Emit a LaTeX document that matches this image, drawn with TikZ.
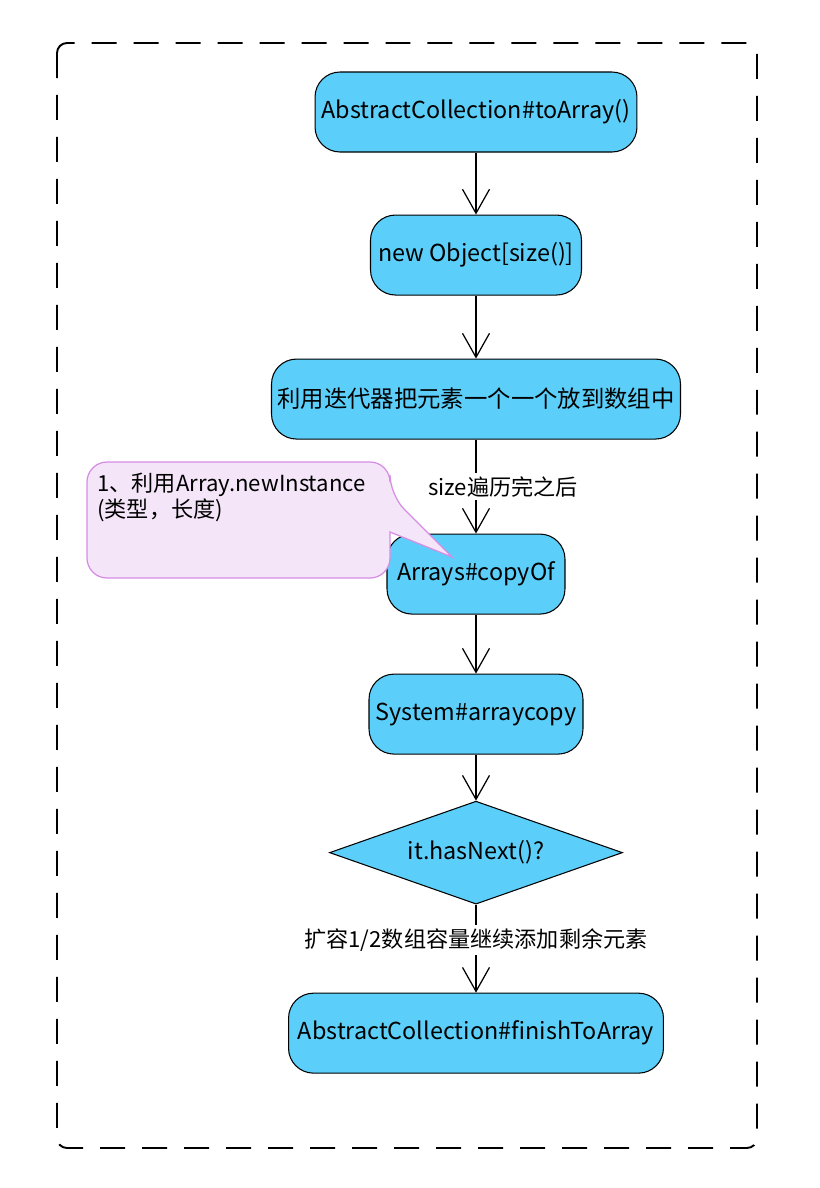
\documentclass[tikz,border=0pt]{standalone}
\usepackage{fontspec}
\setmainfont{Noto Sans CJK SC}
\usetikzlibrary{shapes.geometric, arrows.meta, positioning}
\definecolor{actblue}{RGB}{91,207,250}
\definecolor{notefill}{RGB}{244,230,248}
\definecolor{noteline}{RGB}{214,140,228}
\tikzstyle{activity} = [rectangle, rounded corners=0.5cm, minimum height=1.6cm, text centered, draw=black, line width=0.6pt, fill=actblue, font=\fontsize{13.3}{16}\selectfont]
\tikzstyle{decision} = [diamond, aspect=2.85, minimum width=5.86cm, minimum height=2.06cm, inner sep=1pt, text centered, draw=black, line width=0.6pt, fill=actblue, font=\fontsize{13.3}{16}\selectfont]
\tikzstyle{arrow} = [line width=0.7pt, ->, >={Straight Barb[length=0.48cm, width=0.54cm]}]
\tikzstyle{guard} = [fill=white, inner sep=2pt, font=\fontsize{12.6}{14}\selectfont]
\tikzstyle{frame} = [line width=1.1pt, dash pattern=on 0.5cm off 0.34cm, rounded corners=0.2cm]
\tikzstyle{note} = [draw=noteline, fill=notefill, line width=0.7pt]

\begin{document}
\begin{tikzpicture}[x=0.02cm, y=-0.02cm]
        \useasboundingbox (0,0) rectangle (820,1188);
        % Frame
        \draw[frame] (57,43) rectangle (757,1148);

        % Activities
        \node (toarray) [activity, minimum width=6.44cm] at (476,112) {AbstractCollection\#toArray()};
        \node (newobj) [activity, minimum width=4.22cm, below=1.24cm of toarray] {new Object[size()]};
        \node (iterate) [activity, minimum width=7.84cm, below=1.26cm of newobj] {利用迭代器把元素一个一个放到数组中};
        \node (copyof) [activity, minimum width=3.56cm, below=1.88cm of iterate] {Arrays\#copyOf};
        \node (arraycopy) [activity, minimum width=4.28cm, below=1.18cm of copyof] {System\#arraycopy};
        \node (hasnext) [decision, below=0.92cm of arraycopy] {it.hasNext()?};
        \node (finish) [activity, minimum width=7.5cm, below=1.76cm of hasnext] {AbstractCollection\#finishToArray};

        % Flow
        \draw[arrow] (toarray) -- (newobj);
        \draw[arrow] (newobj) -- (iterate);
        \draw[arrow] (iterate) -- node[guard, xshift=0.54cm] {size遍历完之后} (copyof);
        \draw[arrow] (copyof) -- (arraycopy);
        \draw[arrow] (arraycopy) -- (hasnext);
        \draw[arrow] (hasnext) -- node[guard, pos=0.4] {扩容1/2数组容量继续添加剩余元素} (finish);

        % Note
        \draw[note, rounded corners=0.4cm] (390,532) -- (390,578) -- (87,578) -- (87,462) -- (390,462) -- (390,495) [sharp corners] -- (452,557) -- cycle;
        \node (notetext) [anchor=north west, align=left, inner sep=0pt, font=\fontsize{12.6}{12.8}\selectfont] at (97,473) {1、利用Array.newInstance\\(类型，长度)};
\end{tikzpicture}
\end{document}
